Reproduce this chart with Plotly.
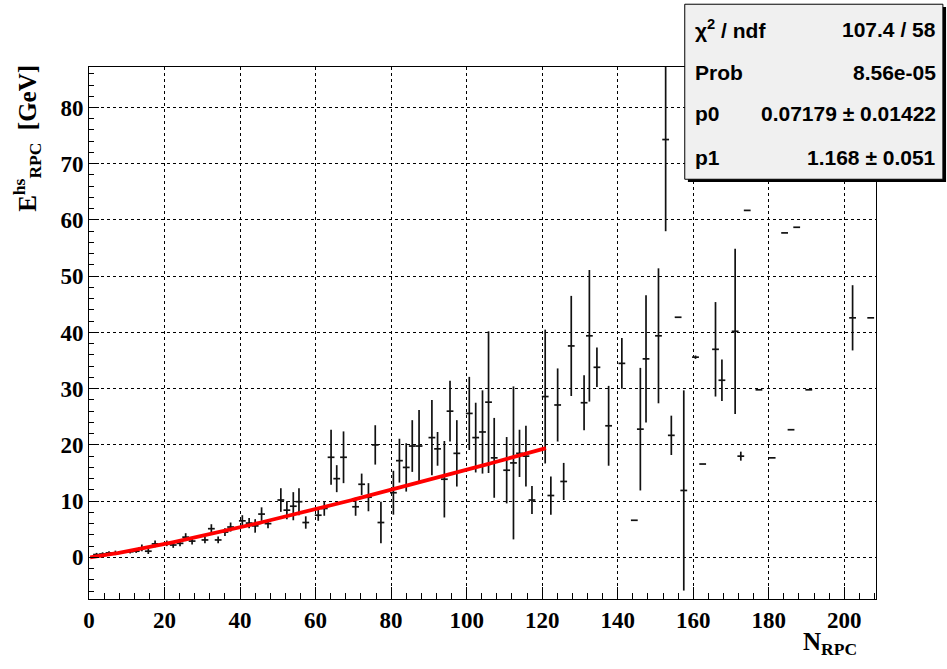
import numpy as np
import plotly.graph_objects as go

# profile points: bin centre, mean, error on the mean
n_rpc = [2.0, 3.6, 5.3, 7.0, 10.9, 12.5, 14.0, 15.7, 17.5, 20.6, 22.3, 24.1, 25.6, 27.3,
         30.7, 32.4, 34.2, 36.0, 37.5, 40.6, 42.4, 44.0, 45.7, 47.4, 50.8, 52.4, 54.1,
         55.6, 57.4, 60.7, 62.3, 64.1, 65.6, 67.4, 70.6, 72.2, 74.0, 75.8, 77.3, 80.6,
         82.2, 84.0, 85.6, 87.4, 90.8, 92.3, 94.1, 95.6, 97.4, 100.7, 102.4, 104.2,
         105.8, 107.3, 110.6, 112.4, 114.0, 115.7, 117.3, 120.8, 122.3, 124.1, 125.7,
         127.7, 131.1, 132.5, 134.5, 137.6, 141.1, 144.4, 146.0, 147.5, 150.8, 152.7,
         154.2, 156.0, 157.5, 160.6, 162.5, 165.9, 167.6, 171.1, 172.6, 174.3, 177.4,
         180.9, 184.2, 185.9, 187.4, 190.6, 202.2, 207.0]
e_hs = [0.5, 0.6, 0.8, 0.8, 1.0, 1.1, 1.7, 1.1, 2.4, 2.5, 2.2, 2.5, 3.6, 2.9,
        3.1, 5.1, 3.1, 4.5, 5.4, 6.5, 6.1, 5.6, 7.7, 6.0, 10.2, 8.4, 9.1,
        9.9, 6.2, 7.5, 8.7, 17.8, 14.0, 17.8, 9.0, 13.0, 10.7, 20.0, 6.2, 11.5,
        17.2, 16.0, 19.8, 19.8, 21.3, 19.3, 13.9, 26.0, 18.5, 25.6, 21.3, 22.3,
        27.6, 17.7, 15.5, 16.8, 18.5, 18.0, 10.2, 28.6, 11.0, 27.1, 13.5,
        37.6, 27.5, 39.4, 33.8, 23.4, 34.5, 6.6, 22.8, 35.3, 39.4, 74.3,
        21.7, 42.7, 11.9, 35.6, 16.6, 37.0, 31.5, 40.2, 18.0, 61.7, 29.8,
        17.7, 57.7, 22.7, 58.7, 29.8, 42.6, 42.6]
e_err = [0.3, 0.3, 0.3, 0.4, 0.3, 0.3, 0.6, 0.5, 0.6, 0.5, 0.5, 0.5, 0.7, 0.6,
         0.6, 0.8, 0.6, 0.7, 0.8, 1.0, 0.9, 1.2, 1.2, 0.8, 2.1, 1.6, 2.5,
         2.4, 1.1, 1.0, 1.3, 4.9, 2.4, 4.6, 1.6, 1.9, 2.5, 3.5, 3.7, 3.9,
         3.9, 4.3, 4.6, 6.4, 6.7, 3.0, 6.8, 5.4, 5.9, 6.5, 6.2, 7.4,
         12.6, 7.1, 5.9, 13.6, 4.2, 5.4, 2.5, 11.9, 3.4, 6.5, 3.3,
         8.9, 4.9, 11.7, 3.5, 7.1, 4.5, 0.0, 10.9, 11.3, 12.0, 16.3,
         3.5, 0.0, 17.8, 0.3, 0.0, 8.4, 3.7, 14.7, 0.8, 0.0, 0.0,
         0.0, 0.0, 0.0, 0.0, 0.0, 5.8, 0.0]
bin_width = 1.8

# fit  E = p0 * N^p1
p0, p0_err = 0.07179, 0.01422
p1, p1_err = 1.168, 0.051
chi2, ndf, prob = 107.4, 58, "8.56e-05"
fit_range = (0.3, 121.0)

fit_x = np.linspace(fit_range[0], fit_range[1], 200)
fit_y = p0 * fit_x ** p1

fig = go.Figure()
fig.add_trace(go.Scatter(
    x=n_rpc, y=e_hs, mode="markers",
    marker=dict(size=0.1, color="black", opacity=0),
    error_y=dict(type="data", array=e_err, visible=True, width=0,
                 thickness=1.7, color="#111"),
    error_x=dict(type="constant", value=bin_width / 2, visible=True, width=0,
                 thickness=1.7, color="#111"),
    showlegend=False, hoverinfo="skip"))
fig.add_trace(go.Scatter(
    x=fit_x, y=fit_y, mode="lines", line=dict(color="#ff0000", width=3.8),
    showlegend=False))

tick_font = dict(family="Liberation Serif", size=23, color="black", weight="bold")
fig.update_xaxes(
    range=[0, 208.4], dtick=20, tick0=0, ticks="inside", ticklen=12, tickwidth=1,
    tickcolor="black", showline=True, linecolor="black", linewidth=1, mirror=True,
    showgrid=True, gridcolor="black", griddash="dot", gridwidth=1, zeroline=False,
    tickfont=tick_font,
    minor=dict(dtick=4, ticks="inside", ticklen=6, tickcolor="black", showgrid=False))
fig.update_yaxes(
    range=[-7.4, 87.2], dtick=10, tick0=0, ticks="inside", ticklen=10, tickwidth=1,
    tickcolor="black", showline=True, linecolor="black", linewidth=1, mirror=True,
    showgrid=True, gridcolor="black", griddash="dot", gridwidth=1, zeroline=False,
    tickfont=tick_font,
    minor=dict(dtick=2, ticks="inside", ticklen=5, tickcolor="black", showgrid=False))

# stat box
bx0, bx1, by0, by1 = 0.757, 1.085, 0.789, 1.118
fig.add_shape(type="rect", xref="paper", yref="paper", x0=bx0 + 0.004, x1=bx1 + 0.004,
              y0=by0 - 0.005, y1=by1 - 0.005, fillcolor="black", line_width=0,
              layer="above")
fig.add_shape(type="rect", xref="paper", yref="paper", x0=bx0, x1=bx1, y0=by0, y1=by1,
              fillcolor="#f0f0f0", line=dict(color="black", width=1), layer="above")

stat_font = dict(family="Liberation Sans", size=21, color="black", weight="bold")
rows = [("χ<sup>2</sup> / ndf", f"{chi2} / {ndf}"),
        ("Prob", prob),
        ("p0", f"{p0} ± {p0_err}"),
        ("p1", f"{p1} ± {p1_err}")]
row_y = [1.0714, 0.9906, 0.9117, 0.8308]
for (lab, val), yy in zip(rows, row_y):
    fig.add_annotation(x=0.7675, y=yy, xref="paper", yref="paper", text=lab,
                       showarrow=False, xanchor="left", yanchor="middle", font=stat_font)
    fig.add_annotation(x=1.079, y=yy, xref="paper", yref="paper", text=val,
                       showarrow=False, xanchor="right", yanchor="middle", font=stat_font)

title_font = dict(family="Liberation Serif", size=25, color="black", weight="bold")
fig.add_annotation(x=0.942, y=-0.05, xref="paper", yref="paper",
                   text="N<sub>RPC</sub>", showarrow=False, xanchor="center",
                   yanchor="top", font=title_font)
fig.add_annotation(x=-0.078, y=1.008, xref="paper", yref="paper",
                   text="E<sup>hs</sup><sub>RPC</sub>  [GeV]", showarrow=False,
                   textangle=-90, xanchor="center", yanchor="top", font=title_font)

fig.update_layout(
    width=947, height=669, paper_bgcolor="white", plot_bgcolor="white",
    margin=dict(l=89, r=71, t=67, b=70))

fig.write_html("out.html", config={"displayModeBar": False},
               post_script="document.body.style.margin='0';")
